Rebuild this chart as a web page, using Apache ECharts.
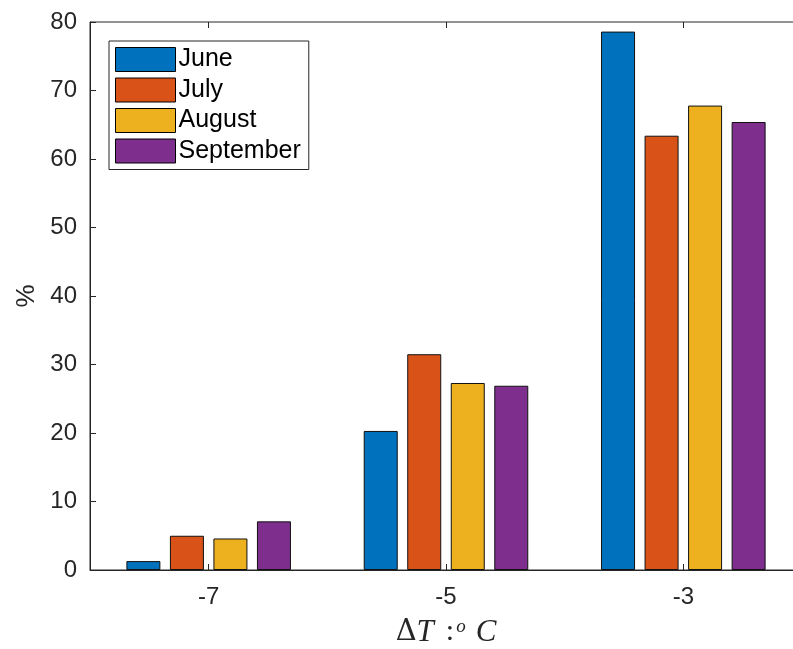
<!DOCTYPE html>
<html>
<head>
<meta charset="utf-8">
<script src="https://cdn.jsdelivr.net/npm/echarts@6/dist/echarts.min.js"></script>
<style>
  html, body { margin: 0; padding: 0; background: #fff; }
  #chart { width: 793px; height: 649px; }
</style>
</head>
<body>
<div id="chart"></div>
<script>
// Temperature-change classes on the x axis
const categories = ['-7', '-5', '-3'];

// Share (%) of events per month in each class
const june      = [1.3, 20.3, 78.6];
const july      = [5.0, 31.5, 63.4];
const august    = [4.6, 27.3, 67.8];
const september = [7.1, 26.9, 65.4];

const yTicks = [0, 10, 20, 30, 40, 50, 60, 70, 80];

const seriesDefs = [
  { name: 'June',      data: june,      color: '#0072BD' },
  { name: 'July',      data: july,      color: '#D95319' },
  { name: 'August',    data: august,    color: '#EDB120' },
  { name: 'September', data: september, color: '#7E2F8E' }
];

const axisColor = '#262626';
const font = 'Liberation Sans, Arial, Helvetica, sans-serif';
const serif = 'Liberation Serif, DejaVu Serif, serif';

const chart = echarts.init(document.getElementById('chart'), null, { renderer: 'canvas' });

chart.setOption({
  animation: false,
  backgroundColor: '#ffffff',
  grid: {
    left: 90, top: 22, width: 712, height: 548,
    containLabel: false,
    outerBoundsMode: 'none',
    show: true, borderColor: axisColor, borderWidth: 1, backgroundColor: 'transparent'
  },
  legend: {
    left: 109, top: 41,
    orient: 'vertical',
    itemWidth: 60, itemHeight: 24, itemGap: 5.5,
    padding: [6, 8, 6, 6],
    borderColor: axisColor, borderWidth: 1,
    backgroundColor: '#ffffff',
    icon: 'rect',
    itemStyle: { borderColor: '#000000', borderWidth: 1 },
    textStyle: { fontFamily: font, fontSize: 25, color: '#000000', padding: [0, 0, 0, -2] },
    data: seriesDefs.map(s => s.name)
  },
  xAxis: [{
    type: 'category',
    data: categories,
    position: 'bottom',
    axisLine: { show: true, lineStyle: { color: axisColor, width: 1 } },
    axisTick: { show: true, inside: true, alignWithLabel: true, length: 6, lineStyle: { color: axisColor } },
    axisLabel: { fontFamily: font, fontSize: 24, color: axisColor, margin: 15 },
    splitLine: { show: false },
    name: '{d|Δ}{i|T}{n|:}{s|o}{c|C}',
    nameLocation: 'middle',
    nameGap: 47,
    nameTextStyle: {
      rich: {
        d: { fontFamily: 'DejaVu Serif, Liberation Serif, serif', fontSize: 29, color: axisColor },
        i: { fontFamily: serif, fontStyle: 'italic', fontSize: 31, color: axisColor },
        n: { fontFamily: serif, fontSize: 30, color: axisColor, padding: [0, 2, 0, 12] },
        s: { fontFamily: serif, fontStyle: 'italic', fontSize: 19, color: axisColor, verticalAlign: 'top' },
        c: { fontFamily: serif, fontStyle: 'italic', fontSize: 31, color: axisColor, padding: [0, 0, 0, 10] }
      }
    }
  }, {
    type: 'category',
    data: categories,
    position: 'top',
    axisLine: { show: false },
    axisTick: { show: true, inside: true, alignWithLabel: true, length: 6, lineStyle: { color: axisColor } },
    axisLabel: { show: false },
    splitLine: { show: false }
  }],
  yAxis: {
    type: 'value',
    min: 0, max: 80, interval: 10,
    axisLine: { show: true, lineStyle: { color: axisColor, width: 1 } },
    axisTick: { show: true, inside: true, length: 6, lineStyle: { color: axisColor } },
    axisLabel: {
      fontFamily: font, fontSize: 24, color: axisColor, margin: 13,
      formatter: v => (yTicks.includes(v) ? String(v) : '')
    },
    splitLine: { show: false },
    name: '%',
    nameLocation: 'middle',
    nameRotate: 90,
    nameGap: 50,
    nameTextStyle: { fontFamily: font, fontSize: 26, color: axisColor }
  },
  series: seriesDefs.map(s => ({
    name: s.name,
    type: 'bar',
    data: s.data,
    barWidth: 34,
    barGap: '28%',
    itemStyle: { color: s.color, borderColor: '#111111', borderWidth: 1 }
  }))
});
</script>
</body>
</html>
